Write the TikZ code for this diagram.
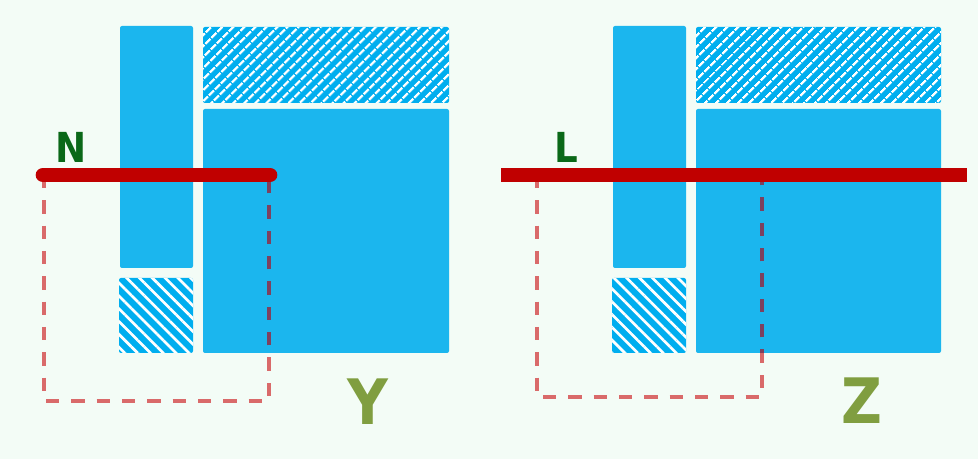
\documentclass[tikz,border=0pt]{standalone}
\usepackage{fontspec}
\newfontfamily\labelfont{DejaVu Sans Condensed}
\usetikzlibrary{patterns.meta}

\definecolor{bgmint}{RGB}{243,252,246}
\definecolor{blockblue}{RGB}{27,182,238}
\definecolor{hatchblue}{RGB}{0,174,239}
\definecolor{cutred}{RGB}{192,0,0}
\definecolor{boxred}{RGB}{217,106,106}
\definecolor{boxdark}{RGB}{125,65,95}
\definecolor{labgreen}{RGB}{10,104,24}
\definecolor{labolive}{RGB}{128,158,64}

\tikzset{every picture/.style={line width=0.75pt},
	blockfill/.style={fill=blockblue, rounded corners=1.5pt},
	hatchne/.style={fill=hatchblue, rounded corners=1.5pt, postaction={pattern={Lines[angle=45,distance=6.4pt,line width=2pt]}, pattern color=white}},
	hatchnw/.style={fill=hatchblue, rounded corners=1.5pt, postaction={pattern={Lines[angle=-45,distance=6.8pt,line width=2pt]}, pattern color=white}},
	boxline/.style={draw=boxred, line width=2.8pt, dash pattern=on 10pt off 9pt},
	boxlinedark/.style={boxline, draw=boxdark},
	cutline/.style={draw=cutred, line width=11pt},
	smallname/.style={anchor=base, inner sep=0.75pt, text=labgreen, font=\labelfont\bfseries\fontsize{31}{31}\selectfont},
	bigname/.style={anchor=base, inner sep=0.75pt, text=labolive, font=\labelfont\bfseries\fontsize{47}{47}\selectfont}
}

\begin{document}
\begin{tikzpicture}[x=0.75pt,y=0.75pt,yscale=-1,xscale=1]
		%background
		\fill [bgmint] (0,0) rectangle (978,459) ;
		\useasboundingbox (0,0) rectangle (978,459) ;
		
		%Left matrix
		\path [blockfill] (120,26) rectangle (193,268) ;
		\path [hatchne] (203,27) rectangle (449,103) ;
		\path [blockfill] (203,109) rectangle (449,353) ;
		\path [hatchnw] (119,278) rectangle (193,353) ;
		%Shape: dashed box
		\draw [boxline] (44,175) -- (44,401) -- (269,401) -- (269,175) ;
		\begin{scope}
			\clip (203,109) rectangle (449,353) ;
			\draw [boxlinedark] (44,175) -- (44,401) -- (269,401) -- (269,175) ;
		\end{scope}
		\draw [cutline, line cap=round] (43,175) -- (270,175) ;
		
		%Right matrix
		\path [blockfill] (613,26) rectangle (686,268) ;
		\path [hatchne] (696,27) rectangle (941,103) ;
		\path [blockfill] (696,109) rectangle (941,353) ;
		\path [hatchnw] (612,278) rectangle (686,353) ;
		%Shape: dashed box
		\draw [boxline] (537,175) -- (537,397) -- (762,397) -- (762,175) ;
		\begin{scope}
			\clip (696,109) rectangle (941,353) ;
			\draw [boxlinedark] (537,175) -- (537,397) -- (762,397) -- (762,175) ;
		\end{scope}
		\draw [cutline] (501,175) -- (967,175) ;
		
		\draw (71,163) node [smallname] (labN) {N};
		\draw (566,163) node [smallname] (labL) {L};
		\draw (368,425) node [bigname] (labY) {Y};
		\draw (862,423) node [bigname] (labZ) {Z};
		
\end{tikzpicture}
\end{document}
